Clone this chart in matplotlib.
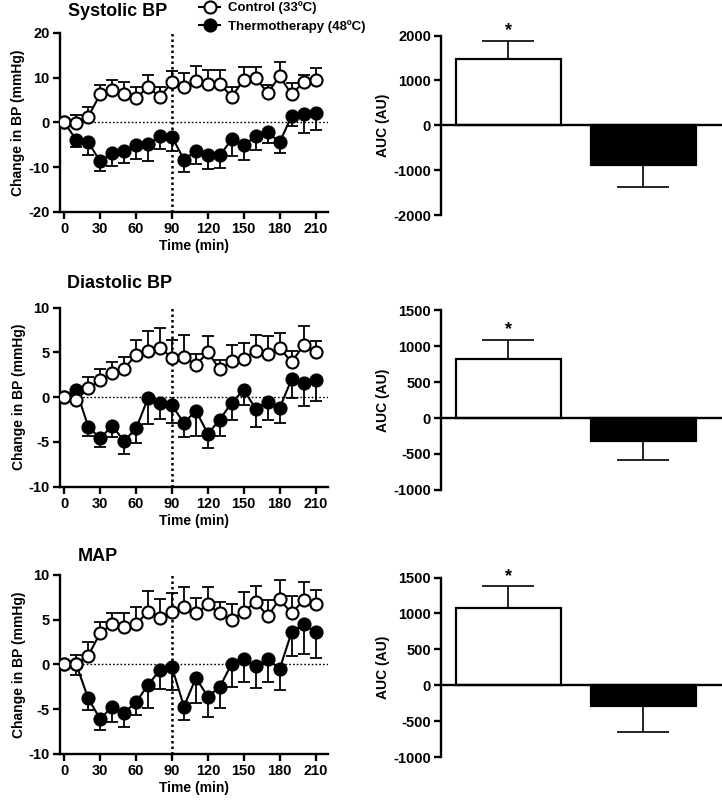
import matplotlib
matplotlib.use("Agg")
import matplotlib.pyplot as plt

plt.rcParams['font.family'] = ['Liberation Sans', 'DejaVu Sans']
plt.rcParams['font.weight'] = 'bold'
plt.rcParams['axes.labelweight'] = 'bold'
plt.rcParams['axes.unicode_minus'] = False

# time points (min)
times = [0, 10, 20, 30, 40, 50, 60, 70, 80, 90, 100, 110, 120, 130, 140, 150, 160, 170, 180, 190, 200, 210]

# systolic BP change (mmHg), mean and SEM
sbp_ctrl = [0, -0.2, 1.3, 6.3, 7.2, 6.4, 5.4, 8.0, 5.6, 9.1, 8.0, 9.3, 8.7, 8.7, 5.7, 9.6, 9.9, 6.6, 10.3, 6.3, 9.0, 9.6]
sbp_ctrl_sem = [0, 1.8, 2.2, 2.0, 2.3, 2.6, 2.6, 2.7, 2.4, 2.4, 3.0, 3.3, 3.0, 3.0, 2.3, 2.9, 2.6, 1.7, 3.3, 2.6, 1.7, 2.5]
sbp_thermo = [0, -3.9, -4.4, -8.7, -6.8, -6.4, -5.1, -4.9, -3.1, -3.2, -8.3, -6.4, -7.2, -7.3, -3.8, -5.1, -3.1, -2.2, -4.4, 1.4, 1.8, 2.2]
sbp_thermo_sem = [0, 1.6, 2.8, 2.2, 3.0, 2.6, 3.0, 3.8, 2.8, 3.2, 2.7, 2.9, 3.2, 2.8, 3.6, 3.3, 3.1, 2.5, 2.4, 2.2, 4.1, 3.8]

# diastolic BP change (mmHg)
dbp_ctrl = [0, -0.3, 1.0, 1.9, 2.7, 3.2, 4.7, 5.2, 5.5, 4.4, 4.5, 3.6, 5.0, 3.1, 4.0, 4.3, 5.2, 4.8, 5.5, 3.9, 5.8, 5.0]
dbp_ctrl_sem = [0, 0.5, 1.3, 1.3, 1.2, 1.3, 1.7, 2.2, 2.2, 2.0, 2.4, 1.2, 1.8, 1.1, 1.8, 1.8, 1.7, 2.0, 1.7, 1.3, 2.2, 1.3]
dbp_thermo = [0, 0.8, -3.3, -4.6, -3.2, -4.9, -3.5, -0.1, -0.7, -0.9, -2.9, -1.5, -4.1, -2.5, -0.6, 0.8, -1.3, -0.5, -1.2, 2.0, 1.6, 1.9]
dbp_thermo_sem = [0, 0.5, 1.0, 1.0, 1.3, 1.5, 1.6, 2.9, 1.7, 2.0, 1.5, 2.8, 1.6, 1.8, 1.9, 1.7, 2.0, 2.1, 1.7, 2.1, 2.6, 2.3]

# mean arterial pressure change (mmHg)
map_ctrl = [0, 0.0, 1.0, 3.5, 4.5, 4.2, 4.5, 5.9, 5.2, 5.9, 6.4, 5.7, 6.7, 5.7, 5.0, 5.9, 7.0, 5.4, 7.3, 5.7, 7.2, 6.8]
map_ctrl_sem = [0, 1.1, 1.5, 1.2, 1.3, 1.6, 1.9, 2.3, 2.1, 2.1, 2.3, 1.7, 2.0, 1.3, 1.8, 2.2, 1.8, 1.8, 2.1, 1.9, 2.0, 1.5]
map_thermo = [0, 0.0, -3.8, -6.1, -4.7, -5.4, -4.2, -2.3, -0.6, -0.3, -4.7, -1.5, -3.6, -2.5, 0.1, 0.6, -0.2, 0.6, -0.5, 3.6, 4.5, 3.6]
map_thermo_sem = [0, 1.2, 1.3, 1.2, 1.7, 1.6, 1.5, 2.6, 2.1, 2.5, 1.5, 2.8, 2.3, 2.4, 2.6, 2.6, 2.4, 2.6, 2.3, 2.6, 3.3, 2.9]

# area under the curve (AU): control, thermotherapy
auc_groups = ['Control (33ºC)', 'Thermotherapy (48ºC)']
auc_sbp = [1467, -889]
auc_sbp_sem = [414, 474]
auc_dbp = [818, -316]
auc_dbp_sem = [269, 270]
auc_map = [1079, -287]
auc_map_sem = [301, 361]

titles = ['Systolic BP', 'Diastolic BP', 'MAP']
line_ylims = [(-20, 20), (-10, 10), (-10, 10)]
line_yticks = [[-20, -10, 0, 10, 20], [-10, -5, 0, 5, 10], [-10, -5, 0, 5, 10]]
bar_ylims = [(-2000, 2000), (-1000, 1500), (-1000, 1500)]
bar_yticks = [[-2000, -1000, 0, 1000, 2000], [-1000, -500, 0, 500, 1000, 1500], [-1000, -500, 0, 500, 1000, 1500]]

line_data = [(sbp_ctrl, sbp_ctrl_sem, sbp_thermo, sbp_thermo_sem),
             (dbp_ctrl, dbp_ctrl_sem, dbp_thermo, dbp_thermo_sem),
             (map_ctrl, map_ctrl_sem, map_thermo, map_thermo_sem)]
bar_data = [(auc_sbp, auc_sbp_sem), (auc_dbp, auc_dbp_sem), (auc_map, auc_map_sem)]

fig = plt.figure(figsize=(7.22, 8.02), dpi=100)

row_bottoms = [0.7357, 0.3932, 0.0599]
title_pos = [(0.094, 0.986), (0.093, 0.647), (0.107, 0.3055)]
fs = 10.5
handles = None

for r in range(3):
    ax = fig.add_axes([0.0831, row_bottoms[r], 0.371, 0.2232])
    ctrl, ctrl_sem, th, th_sem = line_data[r]
    zeros = [0] * len(times)
    ax.errorbar(times, ctrl, yerr=[zeros, ctrl_sem], fmt='none', ecolor='black',
                elinewidth=1.3, capsize=4.5, capthick=1.3, zorder=2)
    ax.errorbar(times, th, yerr=[th_sem, zeros], fmt='none', ecolor='black',
                elinewidth=1.3, capsize=4.5, capthick=1.3, zorder=2)
    h1, = ax.plot(times, ctrl, color='black', lw=1.5, marker='o', ms=8.7,
                  mfc='white', mec='black', mew=1.5, zorder=4, label=auc_groups[0])
    h2, = ax.plot(times, th, color='black', lw=1.5, marker='o', ms=8.7,
                  mfc='black', mec='black', mew=1.5, zorder=3, label=auc_groups[1])
    if handles is None:
        handles = [h1, h2]
    ax.axhline(0, color='black', lw=1.0, ls=(0, (1.2, 1.5)), zorder=1)
    ax.axvline(90, color='black', lw=1.8, ls=(0, (1.0, 1.2)), zorder=1)
    ax.set_xlim(-3.6, 220.3)
    ax.set_ylim(*line_ylims[r])
    ax.set_xticks(list(range(0, 211, 30)))
    ax.set_yticks(line_yticks[r])
    for s in ['top', 'right']:
        ax.spines[s].set_visible(False)
    for s in ['left', 'bottom']:
        ax.spines[s].set_linewidth(1.7)
    ax.tick_params(direction='out', length=5, width=1.7, labelsize=fs, pad=2.5)
    for lab in ax.get_xticklabels() + ax.get_yticklabels():
        lab.set_fontweight('bold')
    ax.set_xlabel('Time (min)', fontsize=10, fontweight='bold', labelpad=2)
    ax.set_ylabel('Change in BP (mmHg)', fontsize=10, fontweight='bold', labelpad=2)
    fig.text(title_pos[r][0], title_pos[r][1], titles[r], fontsize=13,
             fontweight='bold', ha='left', va='center')

    # AUC bars
    bx = fig.add_axes([0.6104, row_bottoms[r] - 0.004, 0.3878, 0.2240])
    vals, sems = bar_data[r]
    pos = [0, 1]
    bx.bar(pos, vals, width=0.775, color=['white', 'black'], edgecolor='black',
           linewidth=1.6, zorder=3)
    bx.errorbar(pos[0], vals[0], yerr=[[0], [sems[0]]], fmt='none', ecolor='black',
                elinewidth=1.2, capsize=19, capthick=1.2, zorder=2)
    bx.errorbar(pos[1], vals[1], yerr=[[sems[1]], [0]], fmt='none', ecolor='black',
                elinewidth=1.2, capsize=19, capthick=1.2, zorder=2)
    bx.annotate('*', (pos[0], vals[0] + sems[0]), xytext=(0, 1), textcoords='offset points',
                ha='center', va='bottom', fontsize=13, fontweight='bold')
    bx.set_xlim(-0.5, 1.573)
    bx.set_ylim(*bar_ylims[r])
    bx.set_yticks(bar_yticks[r])
    bx.set_xticks([])
    bx.spines['top'].set_visible(False)
    bx.spines['right'].set_visible(False)
    bx.spines['bottom'].set_position(('data', 0))
    bx.spines['bottom'].set_zorder(4)
    for s in ['left', 'bottom']:
        bx.spines[s].set_linewidth(1.7)
    bx.tick_params(direction='out', length=5, width=1.7, labelsize=fs, pad=2)
    for lab in bx.get_yticklabels():
        lab.set_fontweight('bold')
    bx.set_ylabel('AUC (AU)', fontsize=10, fontweight='bold', labelpad=2)

fig.legend(handles=handles, loc='upper left', bbox_to_anchor=(0.274, 1.0), frameon=False,
           handlelength=1.6, handletextpad=0.6, borderpad=0.0,
           labelspacing=0.45, borderaxespad=0.1, prop={'weight': 'bold', 'size': 9.5})

fig.savefig('out.png', dpi=100)
